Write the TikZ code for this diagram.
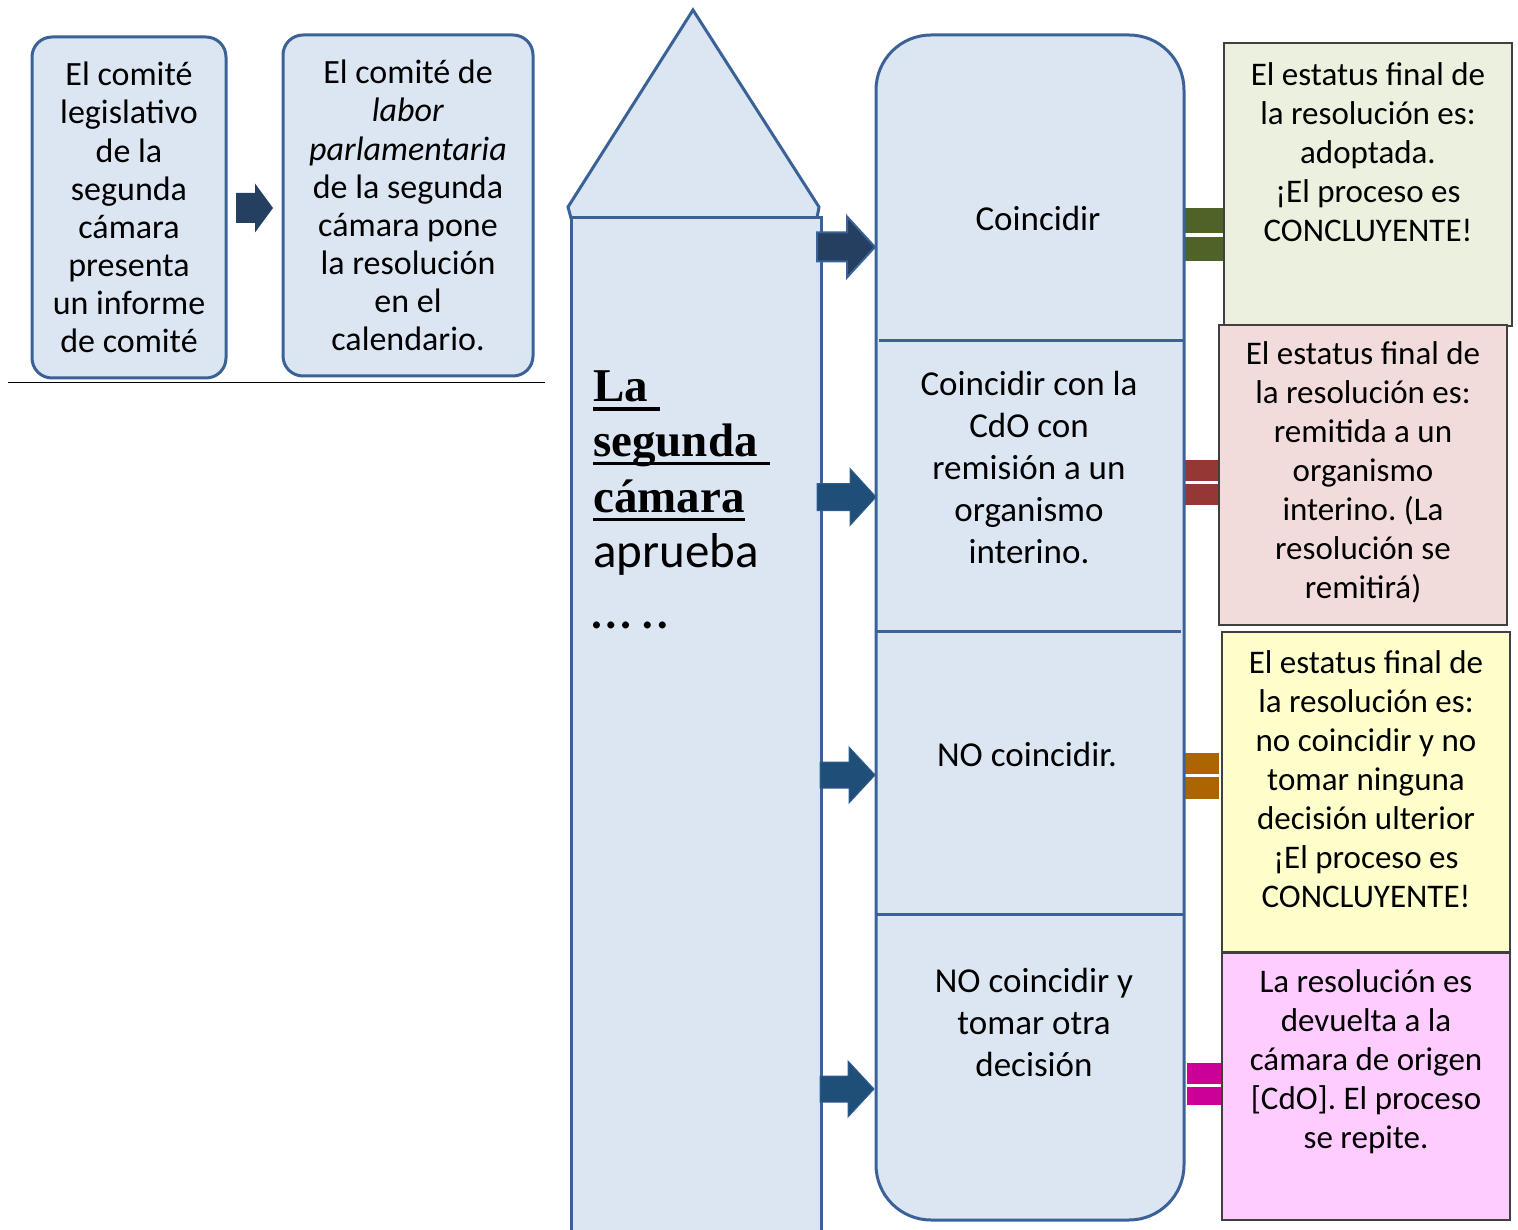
\documentclass[tikz,border=0pt]{standalone}
\usepackage{fontspec}
\setmainfont{Carlito}
\newfontfamily\tnr{Liberation Serif}
\frenchspacing
\definecolor{bfill}{HTML}{DCE6F2}
\definecolor{bstroke}{HTML}{3A6297}
\definecolor{darkarr}{HTML}{243F60}
\definecolor{midarr}{HTML}{1F4E79}
\definecolor{midarrb}{HTML}{2E5E90}
\definecolor{gfill}{HTML}{EBF1DE}
\definecolor{rfill}{HTML}{F2DCDB}
\definecolor{yfill}{HTML}{FFFFCC}
\definecolor{mfill}{HTML}{FFCCFF}
\definecolor{geq}{HTML}{4F6228}
\definecolor{req}{HTML}{953735}
\definecolor{oeq}{HTML}{AC6500}
\definecolor{meq}{HTML}{CC0099}
\newcommand\ulbox[1]{\setbox0=\hbox{#1}\rlap{\rule[-9pt]{\wd0}{3.5pt}}\box0}
\newcommand\barrow[7]{%
  \path[#1] ({#2},{#4-#5}) -- ({#3-#7},{#4-#5}) -- ({#3-#7},{#4-#6}) -- ({#3},{#4})
   -- ({#3-#7},{#4+#6}) -- ({#3-#7},{#4+#5}) -- ({#2},{#4+#5}) -- cycle;}
\begin{document}
\begin{tikzpicture}[x=1pt,y=-1pt,
  bbox/.style={draw=bstroke, fill=bfill, line width=3pt, rounded corners=20pt,
    align=center, inner sep=0pt, font=\fontsize{34}{38.1}\selectfont},
  rbox/.style={draw=black!75, line width=1.5pt, inner sep=0pt,
    minimum width=288pt},
  rtxt/.style={align=center, inner sep=0pt, font=\fontsize{33}{39}\selectfont},
  mtxt/.style={align=center, inner sep=0pt, font=\fontsize{35}{42}\selectfont},
  bigtxt/.style={inner sep=0pt, anchor=base west},
  housestyle/.style={draw=bstroke, fill=bfill, line width=3pt, line join=miter},
  divider/.style={draw=bstroke, line width=3pt},
  darrow/.style={fill=darkarr, draw=bstroke, line width=2pt},
  marrow/.style={fill=midarr, draw=midarrb, line width=1pt},
  sarrow/.style={fill=darkarr},
]
\useasboundingbox (0,0) rectangle (1518,1230);
\clip (0,0) rectangle (1518,1230);

% top-left boxes
\node[bbox, minimum width=194pt, minimum height=341pt] (b1) at (129,207.5)
  {El comité\\legislativo\\de la\\segunda\\cámara\\presenta\\un informe\\de comité};
\node[bbox, minimum width=250pt, minimum height=341pt] (b2) at (408,205.5)
  {El comité de\\\textit{labor}\\\textit{parlamentaria}\\de la segunda\\cámara pone\\la resolución\\en el\\calendario.};
\barrow{sarrow}{236}{273}{208}{15}{24.5}{18}
\draw[line width=1pt] (8,383) coordinate (hl0) -- (545,383) coordinate (hl1);

% house
\path[housestyle] (571,218) -- (568,207) -- (693,10) -- (819,207) -- (817,218) -- cycle;
\path[housestyle] (571,218) rectangle (821,1240);
\node[bigtxt] (t1) at (593,402) {\tnr\bfseries\fontsize{47}{55}\selectfont\ulbox{La\ }};
\node[bigtxt] (t2) at (593,456) {\tnr\bfseries\fontsize{47}{55}\selectfont\ulbox{segunda\ }};
\node[bigtxt] (t3) at (593,512) {\tnr\bfseries\fontsize{47}{55}\selectfont\ulbox{cámara}};
\node[bigtxt] (t4) at (593,567) {\fontsize{49}{55}\selectfont aprueba};
\node[bigtxt] (t5) at (591,628) {\fontsize{58}{55}\selectfont …\,..};

% equals bars
\fill[geq] (1184,208) rectangle (1223,233);
\fill[geq] (1184,237) rectangle (1223,261);
\fill[req] (1184,460) rectangle (1224,481);
\fill[req] (1184,484) rectangle (1224,505);
\fill[oeq] (1185,753) rectangle (1219,774);
\fill[oeq] (1185,777) rectangle (1219,799);
\fill[meq] (1187,1063) rectangle (1221,1084);
\fill[meq] (1187,1087) rectangle (1221,1105);

% big rounded box
\node[draw=bstroke, fill=bfill, line width=3pt, rounded corners=55pt,
  minimum width=308pt, minimum height=1185pt, inner sep=0pt] (big) at (1030,627.5) {};
\draw[divider] (879,341) -- (1184,341);
\draw[divider] (876,631) -- (1181,631);
\draw[divider] (876,914) -- (1184,914);
\node[mtxt] (c1) at (1038,218) {Coincidir};
\node[mtxt] (c2) at (1029,467.5) {Coincidir con la\\CdO con\\remisión a un\\organismo\\interino.};
\node[mtxt] (c3) at (1027,754) {NO coincidir.};
\node[mtxt] (c4) at (1034,1022) {NO coincidir y\\tomar otra\\decisión};

% arrows house -> options
\barrow{darrow}{817}{875}{247}{14.5}{30.5}{28}
\barrow{marrow}{817}{876}{497}{13.5}{28.5}{26}
\barrow{marrow}{820}{875}{775}{13}{28}{26}
\barrow{marrow}{820}{874}{1089}{13}{28}{26}

% right boxes
\node[rbox, fill=gfill, minimum height=283pt] (g) at (1368,184.5) {};
\node[rbox, fill=rfill, minimum height=300pt] (r) at (1363,475) {};
\node[rbox, fill=yfill, minimum height=320pt] (y) at (1366,792) {};
\node[rbox, fill=mfill, minimum height=267pt] (m) at (1366,1086.5) {};
\node[rtxt] (gt) at (1368,152) {El estatus final de\\la resolución es:\\adoptada.\\¡El proceso es\\CONCLUYENTE!};
\node[rtxt] (rt) at (1363,472.5) {El estatus final de\\la resolución es:\\remitida a un\\organismo\\interino. (La\\resolución se\\remitirá)};
\node[rtxt] (yt) at (1366,779.5) {El estatus final de\\la resolución es:\\no coincidir y no\\tomar ninguna\\decisión ulterior\\¡El proceso es\\CONCLUYENTE!};
\node[rtxt] (mt) at (1366,1062) {La resolución es\\devuelta a la\\cámara de origen\\{}[CdO]. El proceso\\se repite.};
\end{tikzpicture}
\end{document}
